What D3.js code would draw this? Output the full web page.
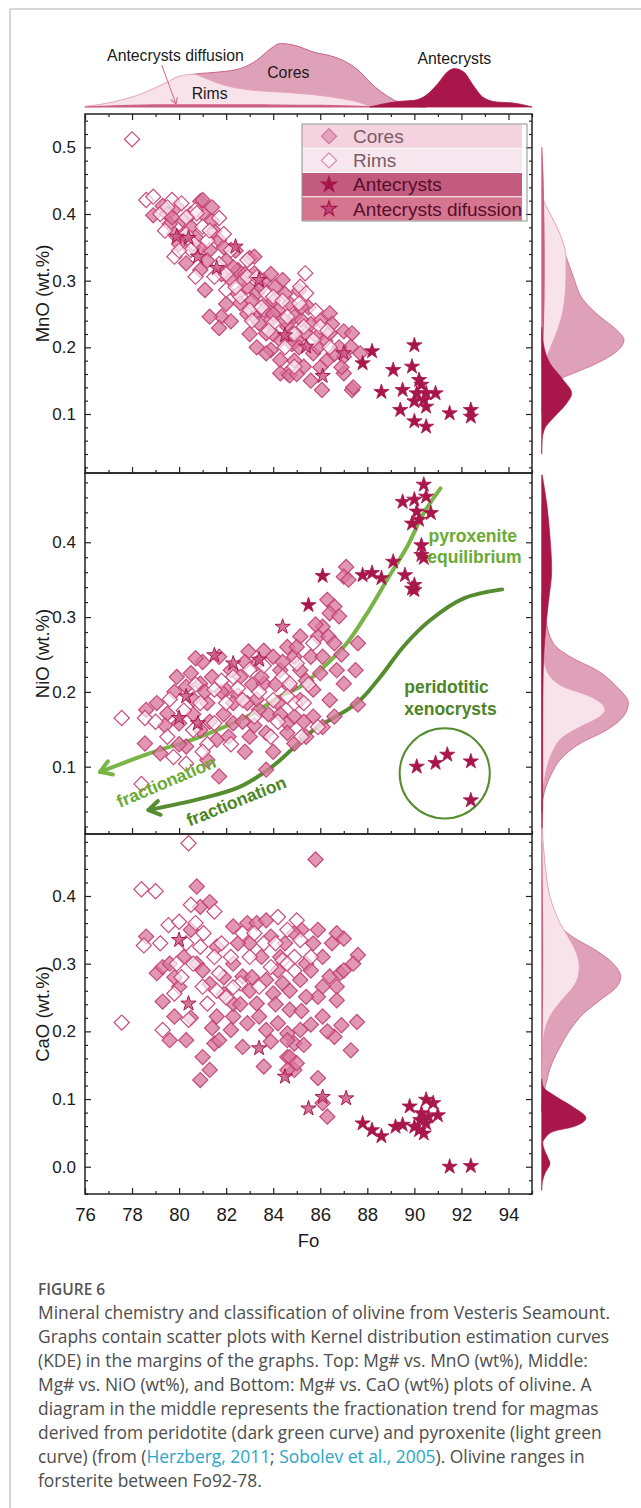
<!DOCTYPE html>
<html>
<head>
<meta charset="utf-8">
<script src="https://cdn.jsdelivr.net/npm/d3@7"></script>
<style>
  body { margin: 0; background: #fff; }
  svg { display: block; }
</style>
</head>
<body>
<svg id="chart" width="641" height="1508"></svg>
<script>
// ---- data ----
const foDomain = [76, 95];
const foMajor = [76, 78, 80, 82, 84, 86, 88, 90, 92, 94];
const seriesNames = ["Cores", "Rims", "Antecrysts", "Antecrysts difussion"];

// MnO panel
const coresMnO = [[78.9,0.398],[79.3,0.412],[79.5,0.40],[79.9,0.411],[80.2,0.39],[80.5,0.381],[79.8,0.37],[80.0,0.355],[80.3,0.326],
  [80.9,0.316],[81.1,0.286],[80.9,0.419],[81.0,0.401],[81.0,0.421],[81.5,0.374],[81.7,0.361],[81.3,0.346],[80.6,0.35],[81.4,0.39],
  [80.7,0.365],[81.9,0.35],[82.4,0.345],[82.0,0.33],[82.5,0.316],[82.2,0.301],[82.8,0.31],[83.0,0.334],[83.2,0.336],[83.2,0.311],
  [84.4,0.301],[84.1,0.291],[83.3,0.281],[83.5,0.29],[82.9,0.291],[82.5,0.28],[82.6,0.266],[83.7,0.266],[84.0,0.27],[84.7,0.266],
  [85.1,0.285],[83.6,0.256],[84.2,0.256],[83.2,0.246],[83.9,0.241],[83.4,0.236],[81.8,0.246],[81.3,0.246],[82.2,0.239],[81.7,0.229],
  [83.7,0.221],[83.0,0.22],[84.6,0.231],[84.9,0.246],[85.2,0.241],[85.5,0.26],[86.0,0.24],[86.4,0.251],[85.4,0.221],[85.0,0.211],
  [84.3,0.211],[84.8,0.205],[85.86,0.216],[86.2,0.21],[86.4,0.221],[87.0,0.224],[87.35,0.221],[87.3,0.201],[86.8,0.20],[87.7,0.191],
  [87.0,0.186],[86.3,0.181],[85.7,0.191],[84.9,0.18],[83.9,0.196],[84.3,0.181],[83.7,0.191],[85.3,0.171],[84.6,0.161],[84.3,0.161],
  [84.7,0.158],[85.6,0.15],[87.0,0.161],[86.07,0.136],[87.35,0.136],[87.4,0.140],
  [79.6,0.385],[80.2,0.37],[80.9,0.35],[81.2,0.33],[81.8,0.31],[82.3,0.32],[82.7,0.30],[83.1,0.27],[83.6,0.30],[84.0,0.25],
  [84.5,0.24],[84.8,0.22],[85.1,0.20],[85.9,0.20],[86.6,0.19],[86.9,0.17],[85.2,0.26],[84.5,0.28],[83.3,0.20],[84.0,0.22],
  [85.6,0.235],[86.5,0.235],[82.0,0.265],[82.9,0.25],[83.9,0.31],[81.4,0.41],[80.5,0.40],[79.7,0.395],[85.0,0.16],[86.0,0.17]];
const rimsMnO = [[78.0,0.512],[78.6,0.421],[78.9,0.426],[79.2,0.40],[79.7,0.421],[80.1,0.416],[80.7,0.406],[80.75,0.401],[81.7,0.394],
  [81.0,0.381],[79.4,0.375],[81.2,0.36],[80.6,0.356],[80.5,0.346],[79.8,0.336],[80.7,0.306],[81.5,0.306],[82.2,0.346],[82.9,0.331],
  [82.0,0.31],[82.0,0.286],[82.9,0.306],[82.6,0.276],[83.7,0.281],[84.0,0.276],[83.0,0.256],[83.5,0.26],[84.0,0.236],[84.6,0.246],
  [85.36,0.311],[85.15,0.291],[85.4,0.281],[85.1,0.266],[85.3,0.231],[86.0,0.231],[85.7,0.211],[84.5,0.20],[86.4,0.20],[84.9,0.171],
  [79.5,0.41],[80.3,0.395],[81.3,0.375],[81.9,0.37],[80.0,0.345],[81.7,0.325],[82.4,0.29],[83.3,0.305],[84.4,0.27],[83.8,0.225],
  [84.9,0.22],[85.8,0.255],[86.3,0.225],[83.1,0.24],[80.3,0.37]];
const diffMnO = [[79.9,0.366],[80.4,0.364],[80.8,0.336],[81.6,0.319],[82.4,0.351],[83.4,0.301],[84.5,0.218],[85.4,0.201],
  [86.1,0.157],[87.0,0.191]];
const antMnO = [[87.8,0.176],[88.2,0.194],[89.1,0.166],[88.6,0.133],[90.0,0.203],[89.9,0.171],[89.5,0.136],[90.2,0.151],[90.3,0.144],
  [90.1,0.131],[90.5,0.131],[90.9,0.131],[90.4,0.121],[90.0,0.119],[90.5,0.111],[89.4,0.106],[90.0,0.089],[90.5,0.081],[91.5,0.101],
  [92.4,0.106],[92.4,0.096]];

// NiO panel
const coresNiO = [[79.05,0.185],[78.6,0.176],[79.5,0.171],[79.8,0.20],[80.5,0.225],[80.9,0.211],[81.0,0.24],[81.2,0.185],[81.7,0.247],
  [82.2,0.229],[82.6,0.22],[82.95,0.254],[83.3,0.238],[83.1,0.21],[83.6,0.211],[84.0,0.247],[84.3,0.229],[84.6,0.26],[84.9,0.247],
  [84.7,0.207],[84.2,0.185],[83.4,0.176],[83.8,0.17],[82.9,0.185],[82.5,0.195],[82.3,0.158],[81.9,0.17],[83.0,0.140],[83.7,0.145],
  [82.8,0.12],[83.7,0.096],[81.7,0.087],[78.55,0.131],[79.2,0.118],[80.3,0.127],[80.9,0.149],[80.6,0.17],[81.6,0.136],[80.0,0.158],
  [82.0,0.203],[80.3,0.207],[84.6,0.158],[84.9,0.131],[81.2,0.109],[87.1,0.367],[87.0,0.354],[87.2,0.350],[86.3,0.323],[86.6,0.314],
  [86.4,0.305],[86.8,0.301],[86.1,0.287],[85.9,0.274],[86.35,0.274],[86.6,0.265],[87.6,0.265],[87.5,0.229],[87.6,0.183],[85.15,0.274],
  [85.0,0.26],[85.6,0.247],[86.1,0.247],[86.7,0.229],[87.0,0.211],[86.0,0.225],[85.15,0.229],[85.7,0.203],[86.4,0.189],[85.15,0.189],
  [84.9,0.167],[85.7,0.167],[86.6,0.167],[86.1,0.153],[84.6,0.145],[85.4,0.14],
  [79.9,0.22],[80.6,0.19],[81.4,0.22],[81.8,0.20],[82.3,0.185],[82.7,0.16],[83.3,0.19],[83.5,0.22],[84.1,0.21],[84.4,0.24],
  [83.6,0.255],[82.8,0.24],[81.3,0.16],[80.0,0.13],[79.4,0.155],[83.2,0.155],[84.3,0.17],[85.4,0.215],[85.8,0.29],[86.9,0.25],
  [85.3,0.16],[84.0,0.12],[82.1,0.14],[80.7,0.245],[81.1,0.20]];
const rimsNiO = [[77.56,0.165],[78.55,0.165],[78.4,0.077],[79.6,0.19],[79.5,0.14],[79.76,0.113],[80.3,0.104],[80.6,0.149],[80.9,0.185],
  [81.2,0.13],[81.5,0.158],[81.5,0.203],[82.0,0.185],[82.3,0.22],[82.7,0.189],[83.0,0.23],[83.2,0.167],[83.9,0.140],[84.0,0.189],
  [84.4,0.22],[84.7,0.211],[84.9,0.185],[84.6,0.194],[85.0,0.238],[85.3,0.185],[85.7,0.265],[85.9,0.153],[85.2,0.14],
  [79.0,0.16],[80.2,0.175],[81.8,0.215],[82.5,0.205],[83.4,0.20],[83.6,0.235],[84.2,0.16],[81.0,0.12],[82.2,0.13],[80.7,0.21],[85.5,0.21]];
const diffNiO = [[80.3,0.194],[80.0,0.165],[80.8,0.158],[81.5,0.249],[82.3,0.238],[83.4,0.243],[84.4,0.287]];
const antNiO = [[90.4,0.477],[89.5,0.454],[90.0,0.457],[90.5,0.461],[90.1,0.441],[90.7,0.439],[89.9,0.425],[90.2,0.430],[90.3,0.396],
  [90.3,0.383],[90.4,0.379],[89.1,0.374],[89.6,0.356],[90.0,0.343],[89.9,0.338],[90.0,0.336],[88.6,0.352],[88.2,0.359],[87.8,0.356],
  [86.1,0.355],[85.5,0.316]];
const xenoNiO = [[90.1,0.100],[90.9,0.105],[91.4,0.116],[92.4,0.107],[92.4,0.055]];

// CaO panel
const coresCaO = [[78.6,0.34],[79.05,0.286],[79.3,0.295],[79.6,0.30],[79.3,0.244],[79.8,0.222],[79.6,0.187],[80.75,0.414],[80.9,0.384],
  [81.3,0.391],[80.5,0.35],[80.9,0.128],[81.3,0.143],[80.0,0.266],[80.75,0.3],[81.6,0.325],[81.9,0.28],[82.3,0.355],[82.9,0.36],
  [83.3,0.36],[83.7,0.364],[83.0,0.33],[82.3,0.3],[82.7,0.281],[82.3,0.222],[82.9,0.212],[82.2,0.202],[81.5,0.182],[81.7,0.187],
  [82.7,0.177],[82.3,0.241],[83.3,0.241],[84.0,0.256],[84.4,0.271],[83.7,0.276],[83.4,0.222],[84.2,0.212],[84.6,0.197],[83.7,0.202],
  [84.9,0.182],[84.6,0.162],[84.9,0.143],[83.6,0.148],[84.2,0.29],[84.5,0.33],[81.6,0.222],[81.0,0.162],[80.3,0.187],[85.8,0.454],
  [85.2,0.35],[85.9,0.35],[86.7,0.345],[87.0,0.337],[87.6,0.313],[87.4,0.3],[85.4,0.3],[86.1,0.31],[86.4,0.281],[86.85,0.286],
  [86.7,0.266],[86.1,0.266],[85.9,0.251],[85.4,0.251],[86.7,0.246],[86.1,0.222],[85.15,0.202],[84.6,0.187],[87.56,0.214],[86.9,0.209],
  [86.6,0.192],[87.3,0.172],[84.7,0.162],[85.0,0.153],[85.9,0.131],[86.1,0.094],[86.3,0.074],[84.6,0.143],[85.15,0.276],[84.7,0.232],
  [85.6,0.29],
  [79.8,0.28],[80.2,0.31],[81.0,0.29],[81.3,0.27],[81.9,0.255],[82.5,0.33],[83.1,0.28],[83.5,0.31],[83.9,0.34],[84.3,0.31],
  [84.7,0.26],[85.2,0.23],[85.6,0.21],[86.3,0.20],[84.1,0.24],[83.0,0.26],[82.6,0.24],[80.5,0.22],[81.4,0.205],[83.9,0.185],
  [85.3,0.18],[86.5,0.33],[87.0,0.29],[85.7,0.33],[84.9,0.345]];
const rimsCaO = [[80.4,0.478],[78.4,0.410],[79.0,0.407],[77.56,0.213],[78.5,0.327],[79.55,0.357],[80.0,0.362],[80.5,0.387],[81.04,0.345],
  [80.9,0.325],[80.3,0.33],[81.5,0.377],[80.6,0.3],[81.5,0.31],[79.8,0.256],[81.0,0.266],[80.4,0.217],[79.3,0.202],[82.6,0.271],
  [83.0,0.31],[84.2,0.369],[83.6,0.33],[82.7,0.345],[83.4,0.266],[84.4,0.305],[84.9,0.29],[81.7,0.286],[81.2,0.241],[82.0,0.25],
  [85.0,0.364],[84.6,0.35],[85.15,0.335],[84.9,0.31],[84.6,0.3],
  [79.2,0.33],[79.9,0.30],[80.7,0.36],[81.8,0.33],[82.2,0.31],[83.2,0.345],[83.9,0.295],[84.1,0.33],[85.6,0.31],[82.3,0.265],
  [81.6,0.26],[80.1,0.28]];
const diffCaO = [[80.4,0.241],[80.0,0.335],[83.4,0.175],[84.5,0.133],[85.5,0.086],[86.1,0.103],[87.1,0.101]];
const antCaO = [[87.8,0.064],[88.2,0.054],[88.6,0.045],[89.2,0.059],[89.5,0.062],[89.8,0.089],[90.0,0.059],[90.2,0.054],[90.4,0.049],
  [90.5,0.064],[90.5,0.099],[90.8,0.094],[91.0,0.076],[90.3,0.079],[90.6,0.074],[90.25,0.069],[91.5,0.0],[92.4,0.001]];

// fractionation curves (NiO panel)
const pyroxeniteFo = [76.64, 78.77, 80.89, 83.02, 84.30, 85.15, 86.0, 87.13, 87.99, 88.84, 89.69, 90.40, 91.11];
const pyroxeniteNiO = [0.093, 0.118, 0.140, 0.169, 0.194, 0.207, 0.229, 0.265, 0.305, 0.350, 0.394, 0.439, 0.472];
const peridotiteFo = [78.7, 80.89, 82.5, 83.7, 84.3, 85.72, 87.56, 88.55, 89.55, 90.68, 92.1, 93.73];
const peridotiteNiO = [0.042, 0.057, 0.072, 0.094, 0.109, 0.149, 0.185, 0.220, 0.261, 0.296, 0.325, 0.337];
const xenoCircle = { fo: 91.29, nio: 0.091, rFo: 1.915 };

// top marginal KDE (Fo), relative density
const kdeCoresFo = [76, 77, 78, 79, 80, 80.6, 81.2, 81.7, 82.6, 83.3, 83.9, 84.3, 84.9, 85.7, 86.6, 87.1, 87.7, 88.1, 88.6, 89.1, 89.5, 90.0, 90.5];
const kdeCoresD = [0, 1, 4, 12, 24, 32.7, 34, 35, 38.4, 46.7, 58.4, 63.4, 61.7, 55, 50, 45, 35, 25, 15, 7.4, 3.4, 0.7, 0];
const kdeRimsFo = [76, 77.2, 78.6, 79.5, 80.0, 80.6, 81.1, 81.7, 82.9, 84.3, 85.7, 86.9, 87.9, 88.1, 88.5];
const kdeRimsD = [0.7, 5, 15, 25, 30.7, 32.7, 29, 23.4, 17.4, 15, 12.4, 8.4, 2.7, 0.7, 0];
const kdeDiffFo = [76, 77, 78, 80, 82, 84, 86, 88, 89];
const kdeDiffD = [0.5, 1.5, 2.3, 2.8, 2.8, 2.6, 2.2, 1, 0];
const kdeAntFo = [88.1, 88.6, 89.4, 90.0, 90.5, 91.0, 91.4, 91.7, 92.1, 92.5, 92.9, 93.5, 94.2, 95];
const kdeAntD = [0, 2.7, 5.7, 6.7, 11.7, 23.4, 35, 38.4, 35, 21.7, 10, 5, 4, 0];

// right marginal KDEs (oxide value, relative density)
const kdeMnO = {
  cores: { v: [0.49,0.45,0.43,0.411,0.38,0.356,0.336,0.306,0.271,0.246,0.226,0.211,0.196,0.176,0.161,0.154,0.144,0.129,0.11],
           d: [0,0.5,1,3.3,10,18,24.3,31.6,41.6,58.3,75,82.3,76.6,55,31.6,20,8,2,0] },
  rims:  { v: [0.5,0.45,0.426,0.421,0.401,0.376,0.356,0.336,0.306,0.276,0.246,0.216,0.191,0.162,0.136,0.1],
           d: [0,0.3,0.5,1.6,8.3,16.6,21.6,24.3,24.3,23.3,20,13.3,6.6,1.6,0.3,0] },
  diff:  { v: [0.5,0.45,0.4,0.35,0.3,0.25,0.2,0.17], d: [0.5,2,2.5,3,3,2.5,1.5,0] },
  ant:   { v: [0.23,0.206,0.176,0.151,0.131,0.116,0.094,0.079,0.061,0.04], d: [0,1.6,8.3,21.6,30,25,11.6,3.3,0.5,0] }
};
const kdeNiO = {
  cores: { v: [0.33,0.301,0.265,0.247,0.229,0.207,0.185,0.167,0.149,0.131,0.109,0.091,0.076,0.056,0.04],
           d: [0,3.3,11.6,28.3,55,75,86.6,81.6,65,38.3,18.3,10,5,1,0] },
  rims:  { v: [0.26,0.229,0.207,0.194,0.176,0.167,0.153,0.14,0.122,0.105,0.076,0.05],
           d: [0,5,21.6,48.3,63.3,58.3,38.3,21.6,11.6,6.6,2,0] },
  diff:  { v: [0.45,0.35,0.25,0.15,0.08], d: [0.5,1.5,1.5,1,0] },
  ant:   { v: [0.49,0.452,0.407,0.363,0.318,0.274,0.229,0.163,0.056,0.015], d: [0.5,5,8.3,10,6.6,3.3,1.5,1,1,0.5] }
};
const kdeCaO = {
  cores: { v: [0.5,0.45,0.40,0.36,0.339,0.319,0.300,0.280,0.266,0.246,0.226,0.202,0.177,0.152,0.123,0.10,0.08],
           d: [0.3,2,6,15,31.6,55,71.6,79,75,58.3,41.6,28.3,18.3,10,4.3,1,0] },
  rims:  { v: [0.5,0.448,0.399,0.36,0.335,0.315,0.295,0.281,0.266,0.246,0.222,0.202,0.172,0.128,0.1],
           d: [0.5,3.3,8.3,18.3,28.3,35,37.6,36.6,31.6,20,8.3,3.3,1,0.5,0] },
  diff:  { v: [0.48,0.4,0.3,0.2,0.12], d: [0.5,1.2,1.5,1,0] },
  ant:   { v: [0.13,0.118,0.103,0.088,0.072,0.059,0.052,0.042,0.035,0.028,0.012,0.005,-0.01,-0.024,-0.035],
           d: [0,1.6,15,31.6,44.3,31.6,11.6,3.3,1,2,6.6,8.3,3.3,0.5,0] }
};

const captionLines = [
  ["Mineral chemistry and classification of olivine from Vesteris Seamount."],
  ["Graphs contain scatter plots with Kernel distribution estimation curves"],
  ["(KDE) in the margins of the graphs. Top: Mg# vs. MnO (wt%), Middle:"],
  ["Mg# vs. NiO (wt%), and Bottom: Mg# vs. CaO (wt%) plots of olivine. A"],
  ["diagram in the middle represents the fractionation trend for magmas"],
  ["derived from peridotite (dark green curve) and pyroxenite (light green"],
  ["curve) (from (", {link: "Herzberg, 2011"}, "; ", {link: "Sobolev et al., 2005"}, "). Olivine ranges in"],
  ["forsterite between Fo92-78."]
];

// ---- drawing ----
const svg = d3.select("#chart");
const font = "'Liberation Sans', Arial, sans-serif";
const plotL = 85, plotR = 532;
const col = {
  coreFill: "#d97a9f", coreStroke: "#c03c6e",
  rimFill: "#ffffff", rimStroke: "#cc4a7b",
  ant: "#a8164a", diffFill: "#c8517f",
  kCore: "#dea1b8", kCoreS: "#c8628a", kRim: "#f8e3eb", kRimS: "#e6a3bb", kDiff: "#cc5f87",
  lightGreen: "#78b446", darkGreen: "#558c30", lightText: "#6aaa32", darkText: "#4b8526"
};

// page frame
svg.append("line").attr("x1", 10).attr("x2", 641).attr("y1", 9).attr("y2", 9)
  .attr("stroke", "#c8c8c8").attr("stroke-width", 1.5);
svg.append("line").attr("x1", 10).attr("x2", 10).attr("y1", 9).attr("y2", 1508)
  .attr("stroke", "#c8c8c8").attr("stroke-width", 1.5);

const x = d3.scaleLinear().domain(foDomain).range([plotL, plotR]);
const square = d3.symbol().type(d3.symbolSquare).size(115);
const star = d3.symbol().type(d3.symbolStar).size(72);

const panels = [
  { top: 114, bottom: 473, domain: [0.0115, 0.55], labels: [0.1, 0.2, 0.3, 0.4, 0.5], title: "MnO (wt.%)",
    cores: coresMnO, rims: rimsMnO, diff: diffMnO, ant: antMnO, kde: kdeMnO },
  { top: 473, bottom: 834, domain: [0.01, 0.4926], labels: [0.1, 0.2, 0.3, 0.4], title: "NiO (wt.%)",
    cores: coresNiO, rims: rimsNiO, diff: diffNiO, ant: antNiO.concat(xenoNiO), kde: kdeNiO },
  { top: 834, bottom: 1194, domain: [-0.0403, 0.4916], labels: [0.0, 0.1, 0.2, 0.3, 0.4], title: "CaO (wt.%)",
    cores: coresCaO, rims: rimsCaO, diff: diffCaO, ant: antCaO, kde: kdeCaO }
];

// arrow markers
const defs = svg.append("defs");
[["arrLight", col.lightGreen], ["arrDark", col.darkGreen]].forEach(([id, c]) => {
  defs.append("marker").attr("id", id).attr("markerUnits", "userSpaceOnUse")
    .attr("orient", "auto-start-reverse").attr("markerWidth", 30).attr("markerHeight", 30)
    .attr("viewBox", "-20 -15 30 30").attr("refX", 0).attr("refY", 0).style("overflow", "visible")
    .append("path").attr("d", "M-11,-7L0,0L-11,7").attr("fill", "none")
    .attr("stroke", c).attr("stroke-width", 4).attr("stroke-linecap", "round").attr("stroke-linejoin", "round");
});
defs.append("marker").attr("id", "arrPink").attr("markerUnits", "userSpaceOnUse")
  .attr("orient", "auto").attr("markerWidth", 20).attr("markerHeight", 20)
  .attr("viewBox", "-10 -10 20 20").style("overflow", "visible")
  .append("path").attr("d", "M-6,-3.5L0,0L-6,3.5").attr("fill", "none").attr("stroke", "#d8648c").attr("stroke-width", 1);

// top marginal KDE
const yT = d3.scaleLinear().domain([0, 100]).range([107, 7]);
const topArea = d3.area().x(d => x(d[0])).y0(yT(0)).y1(d => yT(d[1])).curve(d3.curveMonotoneX);
const zip = (a, b) => a.map((v, i) => [v, b[i]]);
const gTop = svg.append("g");
gTop.append("path").attr("d", topArea(zip(kdeCoresFo, kdeCoresD))).attr("fill", col.kCore).attr("stroke", col.kCoreS).attr("stroke-width", 1);
gTop.append("path").attr("d", topArea(zip(kdeRimsFo, kdeRimsD))).attr("fill", col.kRim).attr("stroke", col.kRimS).attr("stroke-width", 1);
gTop.append("path").attr("d", topArea(zip(kdeDiffFo, kdeDiffD))).attr("fill", col.kDiff).attr("stroke", "none");
gTop.append("path").attr("d", topArea(zip(kdeAntFo, kdeAntD))).attr("fill", col.ant).attr("stroke", col.ant).attr("stroke-width", 0.8);
gTop.append("line").attr("x1", x(79.26)).attr("y1", yT(42)).attr("x2", x(79.87)).attr("y2", yT(3))
  .attr("stroke", "#d8648c").attr("stroke-width", 1).attr("marker-end", "url(#arrPink)");
const topLabels = [
  { t: "Antecrysts diffusion", fo: 76.94, d: 46, anchor: "start" },
  { t: "Cores", fo: 84.64, d: 29.3, anchor: "middle" },
  { t: "Rims", fo: 81.3, d: 8, anchor: "middle" },
  { t: "Antecrysts", fo: 91.7, d: 42.7, anchor: "middle" }
];
gTop.selectAll("text").data(topLabels).join("text")
  .attr("x", d => x(d.fo)).attr("y", d => yT(d.d)).attr("text-anchor", d => d.anchor)
  .attr("font-family", font).attr("font-size", 15.8).attr("fill", "#1a1a1a").text(d => d.t);

// right marginal KDE scale
const xR = d3.scaleLinear().domain([0, 100]).range([541.7, 641.7]);

panels.forEach((p, i) => {
  const y = d3.scaleLinear().domain(p.domain).range([p.bottom, p.top]);
  const g = svg.append("g");

  // right KDE
  const rArea = d3.area().y(d => y(d[0])).x0(xR(0)).x1(d => xR(d[1])).curve(d3.curveMonotoneY);
  const gk = svg.append("g");
  gk.append("path").attr("d", rArea(zip(p.kde.cores.v, p.kde.cores.d))).attr("fill", col.kCore).attr("stroke", col.kCoreS).attr("stroke-width", 0.8);
  gk.append("path").attr("d", rArea(zip(p.kde.rims.v, p.kde.rims.d))).attr("fill", col.kRim).attr("stroke", col.kRimS).attr("stroke-width", 1);
  gk.append("path").attr("d", rArea(zip(p.kde.diff.v, p.kde.diff.d))).attr("fill", col.kDiff);
  gk.append("path").attr("d", rArea(zip(p.kde.ant.v, p.kde.ant.d))).attr("fill", col.ant).attr("stroke", col.ant).attr("stroke-width", 0.6);

  // green curves and notes (middle panel)
  if (i === 1) {
    const line = d3.line().x(d => x(d[0])).y(d => y(d[1])).curve(d3.curveCatmullRom);
    g.append("path").attr("d", line(zip(peridotiteFo, peridotiteNiO))).attr("fill", "none")
      .attr("stroke", col.darkGreen).attr("stroke-width", 4).attr("stroke-linecap", "round").attr("marker-start", "url(#arrDark)");
    g.append("path").attr("d", line(zip(pyroxeniteFo, pyroxeniteNiO))).attr("fill", "none")
      .attr("stroke", col.lightGreen).attr("stroke-width", 4).attr("stroke-linecap", "round").attr("marker-start", "url(#arrLight)");
    g.append("circle").attr("cx", x(xenoCircle.fo)).attr("cy", y(xenoCircle.nio))
      .attr("r", x(xenoCircle.fo + xenoCircle.rFo) - x(xenoCircle.fo))
      .attr("fill", "none").attr("stroke", col.darkGreen).attr("stroke-width", 2);
  }

  // scatter
  g.selectAll(".core").data(p.cores).join("path").attr("class", "core").attr("d", square)
    .attr("transform", d => `translate(${x(d[0])},${y(d[1])}) rotate(45)`)
    .attr("fill", col.coreFill).attr("fill-opacity", 0.78).attr("stroke", col.coreStroke).attr("stroke-width", 1.2).attr("stroke-opacity", 0.9);
  g.selectAll(".rim").data(p.rims).join("path").attr("class", "rim").attr("d", square)
    .attr("transform", d => `translate(${x(d[0])},${y(d[1])}) rotate(45)`)
    .attr("fill", col.rimFill).attr("fill-opacity", 0.65).attr("stroke", col.rimStroke).attr("stroke-width", 1.2);
  g.selectAll(".diff").data(p.diff).join("path").attr("class", "diff").attr("d", star)
    .attr("transform", d => `translate(${x(d[0])},${y(d[1])})`)
    .attr("fill", col.diffFill).attr("fill-opacity", 0.8).attr("stroke", col.ant).attr("stroke-width", 1);
  g.selectAll(".ant").data(p.ant).join("path").attr("class", "ant").attr("d", star)
    .attr("transform", d => `translate(${x(d[0])},${y(d[1])})`)
    .attr("fill", col.ant).attr("stroke", col.ant).attr("stroke-width", 0.8);

  if (i === 1) {
    const notes = [
      { t: "pyroxenite", fo: 90.6, v: 0.40, c: col.lightText, rot: 0, anchor: "start" },
      { t: "equilibrium", fo: 90.55, v: 0.372, c: col.lightText, rot: 0, anchor: "start" },
      { t: "peridotitic", fo: 89.57, v: 0.199, c: col.darkText, rot: 0, anchor: "start" },
      { t: "xenocrysts", fo: 89.57, v: 0.169, c: col.darkText, rot: 0, anchor: "start" },
      { t: "fractionation", fo: 79.45, v: 0.080, c: col.lightText, rot: -23, anchor: "middle", mid: true },
      { t: "fractionation", fo: 82.43, v: 0.054, c: col.darkText, rot: -22, anchor: "middle", mid: true }
    ];
    g.selectAll(".note").data(notes).join("text").attr("class", "note")
      .attr("transform", d => `translate(${x(d.fo)},${y(d.v)}) rotate(${d.rot})`)
      .attr("text-anchor", d => d.anchor).attr("dy", d => d.mid ? "0.35em" : null)
      .attr("font-family", font).attr("font-weight", "bold").attr("font-size", 17.5)
      .attr("fill", d => d.c).text(d => d.t);
  }

  // axes
  const styleAxis = sel => {
    sel.select(".domain").remove();
    sel.selectAll(".tick line").attr("stroke", "#222").attr("stroke-width", 1.2);
    sel.selectAll("text").attr("font-family", font).attr("fill", "#1a1a1a");
  };
  const minorY = d3.range(-2, 28).map(k => k * 0.02).filter(v => v > p.domain[0] && v < p.domain[1] && Math.abs(v * 10 - Math.round(v * 10)) > 1e-6);
  g.append("g").attr("transform", `translate(${plotL},0)`)
    .call(d3.axisLeft(y).tickValues(p.labels).tickSize(-6).tickPadding(9).tickFormat(d3.format(".1f")))
    .call(styleAxis).selectAll("text").attr("font-size", 17);
  g.append("g").attr("transform", `translate(${plotL},0)`)
    .call(d3.axisLeft(y).tickValues(minorY).tickSize(-3).tickFormat("")).call(styleAxis);
  g.append("g").attr("transform", `translate(${plotR},0)`)
    .call(d3.axisRight(y).tickValues(p.labels).tickSize(-6).tickFormat("")).call(styleAxis);
  g.append("g").attr("transform", `translate(${plotR},0)`)
    .call(d3.axisRight(y).tickValues(minorY).tickSize(-3).tickFormat("")).call(styleAxis);

  const last = i === panels.length - 1;
  const minorX = d3.range(77, 96, 2);
  g.append("g").attr("transform", `translate(0,${p.bottom})`)
    .call(d3.axisBottom(x).tickValues(foMajor).tickSize(-6).tickPadding(14).tickFormat(last ? d3.format("d") : ""))
    .call(styleAxis).selectAll("text").attr("font-size", 18.5);
  g.append("g").attr("transform", `translate(0,${p.bottom})`)
    .call(d3.axisBottom(x).tickValues(minorX).tickSize(-3).tickFormat("")).call(styleAxis);
  if (i === 0) {
    g.append("g").attr("transform", `translate(0,${p.top})`)
      .call(d3.axisTop(x).tickValues(foMajor).tickSize(-6).tickFormat("")).call(styleAxis);
    g.append("g").attr("transform", `translate(0,${p.top})`)
      .call(d3.axisTop(x).tickValues(minorX).tickSize(-3).tickFormat("")).call(styleAxis);
  }

  g.append("rect").attr("x", plotL).attr("y", p.top).attr("width", plotR - plotL).attr("height", p.bottom - p.top)
    .attr("fill", "none").attr("stroke", "#222").attr("stroke-width", 1.5);

  g.append("text").attr("transform", `translate(49,${(p.top + p.bottom) / 2}) rotate(-90)`)
    .attr("text-anchor", "middle").attr("font-family", font).attr("font-size", 18.5).attr("fill", "#1a1a1a").text(p.title);
});

svg.append("text").attr("x", (plotL + plotR) / 2).attr("y", 1247).attr("text-anchor", "middle")
  .attr("font-family", font).attr("font-size", 18.5).attr("fill", "#1a1a1a").text("Fo");

// legend (top panel)
const legRows = [
  { name: seriesNames[0], bg: "#f4d2de", tc: "#7b5a66", sym: "sq", fill: "#e3a3bb", stroke: "#d27a9c" },
  { name: seriesNames[1], bg: "#f7e6ed", tc: "#7b5a66", sym: "sq", fill: "#fbf1f5", stroke: "#e08aa9" },
  { name: seriesNames[2], bg: "#c25b7e", tc: "#570d2c", sym: "st", fill: col.ant, stroke: col.ant },
  { name: seriesNames[3], bg: "#d5758f", tc: "#570d2c", sym: "st", fill: "#c04677", stroke: col.ant }
];
const leg = svg.append("g");
const legY = d3.scaleBand().domain(legRows.map(d => d.name)).range([124, 221]);
leg.selectAll("rect.row").data(legRows).join("rect").attr("class", "row")
  .attr("x", 302).attr("y", d => legY(d.name) + 0.5).attr("width", 220).attr("height", legY.bandwidth() - 1)
  .attr("fill", d => d.bg);
leg.append("rect").attr("x", 302).attr("y", 124).attr("width", 225).attr("height", 97)
  .attr("fill", "none").attr("stroke", "#8f8f8f").attr("stroke-width", 1);
leg.selectAll("path").data(legRows).join("path")
  .attr("d", d => d.sym === "sq" ? square() : star())
  .attr("transform", d => `translate(329,${legY(d.name) + legY.bandwidth() / 2})${d.sym === "sq" ? " rotate(45)" : ""}`)
  .attr("fill", d => d.fill).attr("stroke", d => d.stroke).attr("stroke-width", 1.2);
leg.selectAll("text").data(legRows).join("text")
  .attr("x", 353).attr("y", d => legY(d.name) + legY.bandwidth() / 2 + 6.8)
  .attr("font-family", font).attr("font-size", 19).attr("fill", d => d.tc).text(d => d.name);

// caption
const cap = svg.append("g").attr("font-family", "'Open Sans', 'Noto Sans', sans-serif");
cap.append("text").attr("x", 38).attr("y", 1295).attr("font-size", 15.5).attr("fill", "#555")
  .attr("font-weight", 600).text("FIGURE 6");
captionLines.forEach((parts, k) => {
  const t = cap.append("text").attr("x", 38).attr("y", 1318.5 + k * 24.1).attr("font-size", 17.4).attr("fill", "#4d4d4d");
  parts.forEach(s => {
    if (typeof s === "string") t.append("tspan").text(s);
    else t.append("tspan").attr("fill", "#2aa6c6").text(s.link);
  });
});
</script>
</body>
</html>
